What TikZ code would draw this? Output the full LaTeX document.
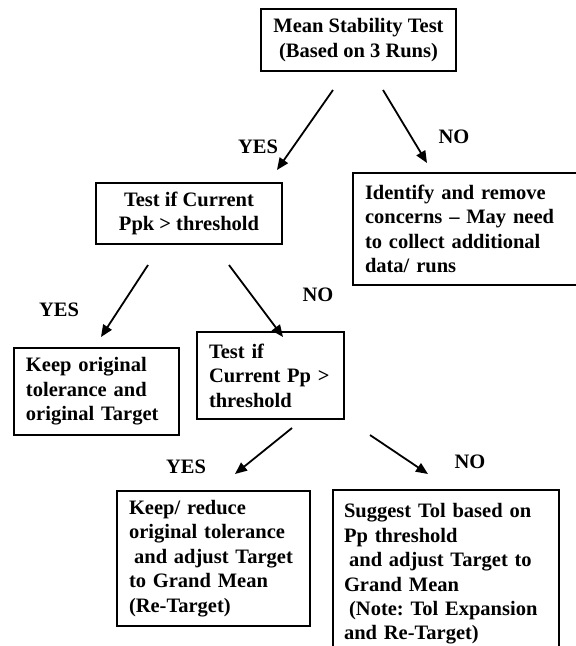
\documentclass[tikz,border=0pt]{standalone}
\usepackage{fontspec}
\setmainfont{Liberation Serif}
\frenchspacing
\usetikzlibrary{arrows.meta}
\tikzset{
  x=1pt, y=-1pt,
  txt/.style={font=\fontsize{20.5}{24.4}\selectfont\bfseries},
  box/.style={txt, draw, line width=1.6pt, inner ysep=0pt},
  lbox/.style={box, align=left},
  cbox/.style={box, align=center},
  lbl/.style={txt, inner sep=0pt},
  arr/.style={line width=1.8pt, -{Triangle[length=12pt,width=10pt]}}
}
\begin{document}
\begin{tikzpicture}
\useasboundingbox[fill=white] (0,0) rectangle (576,646);

% boxes
\node[cbox, minimum width=195pt, minimum height=62pt] (mst) at (358.5,40)
  {Mean Stability Test\\(Based on 3 Runs)};
\node[cbox, minimum width=186pt, minimum height=61pt] (ppk) at (189,213.5)
  {Test if Current\\Ppk > threshold};
\node[lbox, text width=203pt, inner xsep=12pt, minimum height=112pt] (idr) at (466.5,229)
  {Identify and remove\\concerns – May need\\to collect additional\\data/ runs};
\node[lbox, text width=141pt, inner xsep=12pt, minimum height=87pt] (keep) at (96.5,391.5)
  {Keep original\\tolerance and\\original Target};
\node[lbox, text width=123pt, inner xsep=12pt, minimum height=87pt] (pp) at (270.5,375.5)
  {Test if\\Current Pp >\\threshold};
\node[lbox, text width=169pt, inner xsep=12pt, minimum height=135pt] (ret) at (213.5,558.5)
  {Keep/ reduce\\original tolerance\\\hspace*{0.25em}and adjust Target\\to Grand Mean\\(Re-Target)};
\node[lbox, text width=204pt, inner xsep=11pt, minimum height=168pt] (sug) at (446,574)
  {Suggest Tol based on\\Pp threshold\\\hspace*{0.25em}and adjust Target to\\Grand Mean\\\hspace*{0.25em}(Note: Tol Expansion\\and Re-Target)};

% labels
\node[lbl] (y1) at (258,147) {YES};
\node[lbl] (n1) at (454,137) {NO};
\node[lbl] (y2) at (59,310) {YES};
\node[lbl] (n2) at (318,295) {NO};
\node[lbl] (y3) at (186,467) {YES};
\node[lbl] (n3) at (470,462) {NO};

% arrow end points
\coordinate (a1s) at (333,90);  \coordinate (a1e) at (277,170);
\coordinate (a2s) at (383,90);  \coordinate (a2e) at (427,163);
\coordinate (a3s) at (148,265); \coordinate (a3e) at (101,337);
\coordinate (a4s) at (229,265); \coordinate (a4e) at (283,337);
\coordinate (a5s) at (292,428); \coordinate (a5e) at (235,474);
\coordinate (a6s) at (370,435); \coordinate (a6e) at (428,474);

\draw[arr] (a1s) -- (a1e);
\draw[arr] (a2s) -- (a2e);
\draw[arr] (a3s) -- (a3e);
\draw[arr] (a4s) -- (a4e);
\draw[arr] (a5s) -- (a5e);
\draw[arr] (a6s) -- (a6e);
\end{tikzpicture}
\end{document}
